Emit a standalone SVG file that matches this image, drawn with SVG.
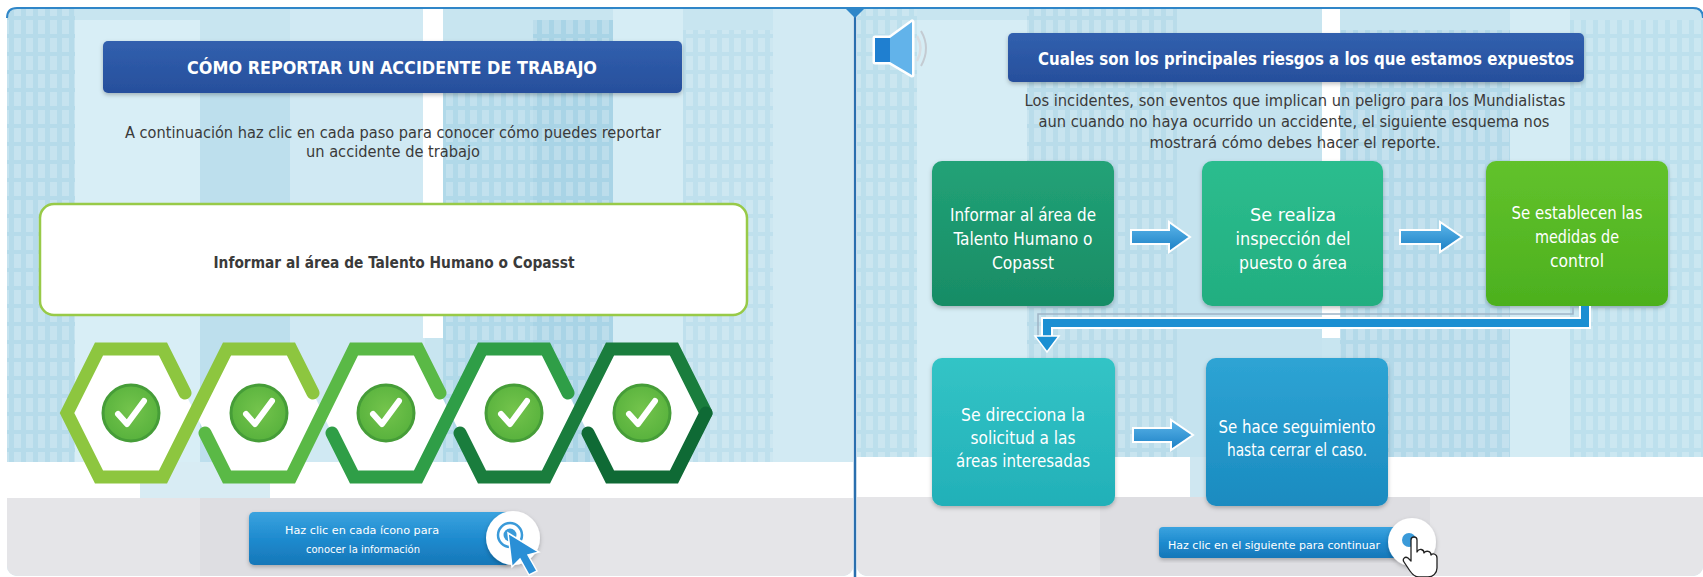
<svg xmlns="http://www.w3.org/2000/svg" width="1703" height="577" viewBox="0 0 1703 577">
  <style>
    .narrow { font-family: "Liberation Sans Narrow", "DejaVu Sans Condensed", "Liberation Sans", sans-serif; }
    .title { font-size: 18px; font-weight: bold; fill: #ffffff; text-anchor: middle; }
    .body { font-size: 15px; fill: #3a3a3a; text-anchor: middle; }
    .box-text { font-size: 18px; fill: #ffffff; text-anchor: middle; }
    .btn-text { font-size: 11px; fill: #ffffff; text-anchor: middle; }
    .hex { fill: none; stroke-width: 13; stroke-linecap: round; stroke-linejoin: miter; }
    .check { fill: none; stroke: #ffffff; stroke-width: 6; stroke-linecap: round; stroke-linejoin: round; }
    .flow-arrow { fill: url(#arrowGrad); stroke: #ffffff; stroke-width: 2; }
  </style>
  <defs>
    <pattern id="windows" width="12" height="18" patternUnits="userSpaceOnUse">
      <rect x="2" y="2" width="7" height="14" fill="#ffffff" opacity="0.22"/>
    </pattern>
    <linearGradient id="titleGrad" x1="0" y1="0" x2="0" y2="1">
      <stop offset="0" stop-color="#3160ae"/>
      <stop offset="1" stop-color="#274f9c"/>
    </linearGradient>
    <linearGradient id="btnGrad" x1="0" y1="0" x2="0" y2="1">
      <stop offset="0" stop-color="#3aa3df"/>
      <stop offset="0.5" stop-color="#1f8bcf"/>
      <stop offset="1" stop-color="#1677b8"/>
    </linearGradient>
    <linearGradient id="arrowGrad" x1="0" y1="0" x2="0" y2="1">
      <stop offset="0" stop-color="#5db6ea"/>
      <stop offset="1" stop-color="#1a7fc4"/>
    </linearGradient>
    <radialGradient id="checkGrad" cx="0.5" cy="0.45" r="0.55">
      <stop offset="0" stop-color="#74c44c"/>
      <stop offset="1" stop-color="#58b23d"/>
    </radialGradient>
    <linearGradient id="g1" x1="0" y1="0" x2="0" y2="1"><stop offset="0" stop-color="#22a277"/><stop offset="1" stop-color="#188c65"/></linearGradient>
    <linearGradient id="g2" x1="0" y1="0" x2="0" y2="1"><stop offset="0" stop-color="#2cbd8e"/><stop offset="1" stop-color="#22ae80"/></linearGradient>
    <linearGradient id="g3" x1="0" y1="0" x2="0" y2="1"><stop offset="0" stop-color="#62c22c"/><stop offset="1" stop-color="#4cb01e"/></linearGradient>
    <linearGradient id="g4" x1="0" y1="0" x2="0" y2="1"><stop offset="0" stop-color="#33c4c6"/><stop offset="1" stop-color="#22b0b8"/></linearGradient>
    <linearGradient id="g5" x1="0" y1="0" x2="0" y2="1"><stop offset="0" stop-color="#2ea4d4"/><stop offset="1" stop-color="#1a8bc0"/></linearGradient>
    <filter id="shadow" x="-10%" y="-10%" width="120%" height="125%">
      <feDropShadow dx="0" dy="2" stdDeviation="2" flood-color="#000000" flood-opacity="0.25"/>
    </filter>
    <clipPath id="leftClip"><rect x="7" y="8" width="846" height="568" rx="10"/></clipPath>
    <clipPath id="rightClip"><rect x="857" y="8" width="846" height="568" rx="10"/></clipPath>
  </defs>

  <rect width="1703" height="577" fill="#ffffff"/>

  <!-- left scene: city skyline backdrop -->
  <g id="left-scene" clip-path="url(#leftClip)">
    <rect x="7" y="8" width="846" height="568" fill="#c8e5f0"/>
    <rect x="7" y="8" width="68" height="455" fill="#b6dbea"/>
    <rect x="7" y="8" width="68" height="455" fill="url(#windows)"/>
    <rect x="75" y="20" width="125" height="443" fill="#d8eef6"/>
    <rect x="200" y="60" width="90" height="403" fill="#bddfed"/>
    <rect x="290" y="8" width="135" height="455" fill="#d0e9f3"/>
    <rect x="423" y="8" width="20" height="330" fill="#ffffff"/>
    <rect x="443" y="60" width="90" height="403" fill="#b1d9e9"/>
    <rect x="443" y="60" width="90" height="403" fill="url(#windows)"/>
    <rect x="533" y="20" width="80" height="443" fill="#a9d4e6"/>
    <rect x="533" y="20" width="80" height="443" fill="url(#windows)"/>
    <rect x="613" y="8" width="70" height="455" fill="#d6edf5"/>
    <rect x="683" y="30" width="90" height="433" fill="#bfe0ed"/>
    <rect x="683" y="30" width="90" height="433" fill="url(#windows)"/>
    <rect x="773" y="8" width="80" height="455" fill="#d2eaf3"/>
    <rect x="7" y="462" width="846" height="36" fill="#ffffff"/>
    <rect x="140" y="462" width="130" height="36" fill="#d8ecf4"/>
    <rect x="7" y="498" width="846" height="78" fill="#e5e5e8"/>
    <rect x="200" y="498" width="390" height="78" fill="#dedee2"/>
  </g>

  <!-- right scene: city skyline backdrop -->
  <g id="right-scene" clip-path="url(#rightClip)">
    <rect x="857" y="8" width="846" height="568" fill="#c8e5f0"/>
    <rect x="857" y="8" width="60" height="455" fill="#bcdfec"/>
    <rect x="857" y="8" width="60" height="455" fill="url(#windows)"/>
    <rect x="917" y="20" width="110" height="443" fill="#d6edf5"/>
    <rect x="1027" y="8" width="150" height="455" fill="#b9dcea"/>
    <rect x="1027" y="8" width="150" height="455" fill="url(#windows)"/>
    <rect x="1177" y="40" width="145" height="423" fill="#c5e3ef"/>
    <rect x="1322" y="8" width="18" height="330" fill="#ffffff"/>
    <rect x="1340" y="30" width="170" height="433" fill="#b3d9e9"/>
    <rect x="1340" y="30" width="170" height="433" fill="url(#windows)"/>
    <rect x="1510" y="8" width="60" height="455" fill="#d4ecf4"/>
    <rect x="1570" y="20" width="133" height="443" fill="#bde0ed"/>
    <rect x="1570" y="20" width="133" height="443" fill="url(#windows)"/>
    <rect x="857" y="457" width="846" height="41" fill="#ffffff"/>
    <rect x="1190" y="457" width="120" height="41" fill="#cfe7f1"/>
    <rect x="857" y="497" width="846" height="79" fill="#e5e5e8"/>
    <rect x="1100" y="497" width="330" height="79" fill="#dedee2"/>
  </g>

  <!-- frame: top rule and panel divider -->
  <g id="frame">
    <path d="M7,18 Q7,8 17,8 L1693,8 Q1703,8 1703,18" fill="none" stroke="#2f86c8" stroke-width="2"/>
    <line x1="855" y1="8" x2="855" y2="577" stroke="#2a6fae" stroke-width="2.5"/>
    <path d="M845,8 L865,8 L855,18 Z" fill="#2f86c8"/>
  </g>

  <!-- left panel -->
  <g id="left-title">
    <rect x="103" y="41" width="579" height="52" rx="5" fill="url(#titleGrad)" filter="url(#shadow)"/>
    <text class="narrow title" x="392" y="74" textLength="410" lengthAdjust="spacingAndGlyphs">CÓMO REPORTAR UN ACCIDENTE DE TRABAJO</text>
  </g>
  <g id="left-intro">
    <text class="narrow body" x="393" y="138" textLength="536" lengthAdjust="spacingAndGlyphs">A continuación haz clic en cada paso para conocer cómo puedes reportar</text>
    <text class="narrow body" x="393" y="157" textLength="174" lengthAdjust="spacingAndGlyphs">un accidente de trabajo</text>
  </g>
  <g id="step-detail">
    <rect x="40" y="204" width="707" height="111" rx="14" fill="#ffffff" stroke="#98ca48" stroke-width="2.5"/>
    <text class="narrow" x="394" y="268" font-size="16" font-weight="bold" fill="#3a3a3a" text-anchor="middle" textLength="361" lengthAdjust="spacingAndGlyphs">Informar al área de Talento Humano o Copasst</text>
  </g>

  <!-- chain of five step icons -->
  <g id="step-icons">
    <g fill="#ffffff">
      <polygon points="67,413 99,349 163,349 195,413 163,477 99,477"/>
      <polygon points="195,413 227,349 291,349 323,413 291,477 227,477"/>
      <polygon points="322,413 354,349 418,349 450,413 418,477 354,477"/>
      <polygon points="450,413 482,349 546,349 578,413 546,477 482,477"/>
      <polygon points="578,413 610,349 674,349 706,413 674,477 610,477"/>
    </g>
    <path class="hex" stroke="#8dc63f" d="M185,393 L163,349 L99,349 L67,413 L99,477 L163,477 L227,349 L291,349 L313,393"/>
    <path class="hex" stroke="#5ab946" d="M205,433 L227,477 L291,477 L354,349 L418,349 L440,393"/>
    <path class="hex" stroke="#2f9e47" d="M332,433 L354,477 L418,477 L482,349 L546,349 L568,393"/>
    <path class="hex" stroke="#1a7d3d" d="M460,433 L482,477 L546,477 L610,349 L674,349 L706,413"/>
    <path class="hex" stroke="#0f6a35" d="M588,433 L610,477 L674,477 L706,413"/>
    <g fill="url(#checkGrad)" stroke="#469d38" stroke-width="3">
      <circle cx="131" cy="413" r="28"/>
      <circle cx="259" cy="413" r="28"/>
      <circle cx="386" cy="413" r="28"/>
      <circle cx="514" cy="413" r="28"/>
      <circle cx="642" cy="413" r="28"/>
    </g>
    <path class="check" d="M118,414 L127,424 L144,401"/>
    <path class="check" d="M246,414 L255,424 L272,401"/>
    <path class="check" d="M373,414 L382,424 L399,401"/>
    <path class="check" d="M501,414 L510,424 L527,401"/>
    <path class="check" d="M629,414 L638,424 L655,401"/>
  </g>

  <!-- left hint button -->
  <g id="left-hint">
    <rect x="249" y="512" width="262" height="53" rx="5" fill="url(#btnGrad)" filter="url(#shadow)"/>
    <text class="narrow btn-text" x="362" y="534" textLength="154" lengthAdjust="spacingAndGlyphs">Haz clic en cada ícono para</text>
    <text class="narrow btn-text" x="363" y="553" textLength="114" lengthAdjust="spacingAndGlyphs">conocer la información</text>
    <circle cx="513" cy="538" r="27" fill="#ffffff" filter="url(#shadow)"/>
    <circle cx="510" cy="535" r="12" fill="none" stroke="#3a9ad9" stroke-width="2.5"/>
    <circle cx="510" cy="535" r="6.5" fill="#3a9ad9"/>
    <path d="M508,533 L512,567 L520,559 L529,575 L537,571 L528,555 L539,552 Z" fill="#2a8fd6" stroke="#ffffff" stroke-width="1.5"/>
  </g>

  <!-- right panel -->
  <g id="speaker">
    <path d="M875,38 L890,38 L912,22 L912,75 L890,62 L875,62 Z" fill="none" stroke="#ffffff" stroke-width="5" stroke-linejoin="round"/>
    <rect x="875" y="38" width="15" height="24" fill="#1f7fd0"/>
    <path d="M890,38 L912,22 L912,75 L890,62 Z" fill="#62b3ea"/>
    <path d="M917,36 Q924,48 917,61" fill="none" stroke="#d8dde2" stroke-width="2.5"/>
    <path d="M921,31 Q931,48 921,66" fill="none" stroke="#c4cbd2" stroke-width="2"/>
  </g>
  <g id="right-title">
    <rect x="1008" y="33" width="576" height="49" rx="5" fill="url(#titleGrad)" filter="url(#shadow)"/>
    <text class="narrow title" x="1306" y="65" textLength="536" lengthAdjust="spacingAndGlyphs">Cuales son los principales riesgos  a los que estamos expuestos</text>
  </g>
  <g id="right-intro">
    <text class="narrow body" x="1295" y="106" font-size="16" textLength="541" lengthAdjust="spacingAndGlyphs">Los incidentes, son eventos que implican un peligro para los Mundialistas</text>
    <text class="narrow body" x="1294" y="127" font-size="16" textLength="511" lengthAdjust="spacingAndGlyphs">aun cuando no haya ocurrido un accidente, el siguiente esquema  nos</text>
    <text class="narrow body" x="1295" y="148" font-size="16" textLength="291" lengthAdjust="spacingAndGlyphs">mostrará cómo debes hacer el reporte.</text>
  </g>

  <g id="box-informar">
    <rect x="932" y="161" width="182" height="145" rx="10" fill="url(#g1)" filter="url(#shadow)"/>
    <text class="narrow box-text" x="1023" y="221" textLength="146" lengthAdjust="spacingAndGlyphs">Informar al área de</text>
    <text class="narrow box-text" x="1023" y="245" textLength="139" lengthAdjust="spacingAndGlyphs">Talento Humano o</text>
    <text class="narrow box-text" x="1023" y="269" textLength="62" lengthAdjust="spacingAndGlyphs">Copasst</text>
  </g>
  <g id="box-inspeccion">
    <rect x="1202" y="161" width="181" height="145" rx="10" fill="url(#g2)" filter="url(#shadow)"/>
    <text class="narrow box-text" x="1293" y="221" textLength="86" lengthAdjust="spacingAndGlyphs">Se realiza</text>
    <text class="narrow box-text" x="1293" y="245" textLength="115" lengthAdjust="spacingAndGlyphs">inspección del</text>
    <text class="narrow box-text" x="1293" y="269" textLength="108" lengthAdjust="spacingAndGlyphs">puesto o área</text>
  </g>
  <g id="box-medidas">
    <rect x="1486" y="161" width="182" height="145" rx="10" fill="url(#g3)" filter="url(#shadow)"/>
    <text class="narrow box-text" x="1577" y="219" textLength="131" lengthAdjust="spacingAndGlyphs">Se establecen las</text>
    <text class="narrow box-text" x="1577" y="243" textLength="84" lengthAdjust="spacingAndGlyphs">medidas de</text>
    <text class="narrow box-text" x="1577" y="267" textLength="54" lengthAdjust="spacingAndGlyphs">control</text>
  </g>
  <g id="box-direcciona">
    <rect x="932" y="358" width="183" height="148" rx="10" fill="url(#g4)" filter="url(#shadow)"/>
    <text class="narrow box-text" x="1023" y="421" textLength="124" lengthAdjust="spacingAndGlyphs">Se direcciona la</text>
    <text class="narrow box-text" x="1023" y="444" textLength="105" lengthAdjust="spacingAndGlyphs">solicitud a las</text>
    <text class="narrow box-text" x="1023" y="467" textLength="134" lengthAdjust="spacingAndGlyphs">áreas interesadas</text>
  </g>
  <g id="box-seguimiento">
    <rect x="1206" y="358" width="182" height="148" rx="10" fill="url(#g5)" filter="url(#shadow)"/>
    <text class="narrow box-text" x="1297" y="433" textLength="157" lengthAdjust="spacingAndGlyphs">Se hace seguimiento</text>
    <text class="narrow box-text" x="1297" y="456" textLength="140" lengthAdjust="spacingAndGlyphs">hasta cerrar el caso.</text>
  </g>

  <!-- connectors between the steps -->
  <g id="connectors">
    <path class="flow-arrow" d="M1131,230 L1169,230 L1169,222 L1190,237 L1169,252 L1169,244 L1131,244 Z"/>
    <path class="flow-arrow" d="M1400,230 L1440,230 L1440,222 L1462,237 L1440,252 L1440,244 L1400,244 Z"/>
    <path class="flow-arrow" d="M1133,428 L1171,428 L1171,420 L1193,435 L1171,450 L1171,442 L1133,442 Z"/>
    <path d="M1573,306 L1573,314 L1038,314 L1038,340" fill="none" stroke="#9fb4c6" stroke-width="1.5"/>
    <path d="M1585,306 L1585,323 L1047,323 L1047,338" fill="none" stroke="#ffffff" stroke-width="12"/>
    <path d="M1585,306 L1585,323 L1047,323 L1047,338" fill="none" stroke="#1b8fd2" stroke-width="8"/>
    <path d="M1035,336 L1059,336 L1047,352 Z" fill="#1b8fd2" stroke="#ffffff" stroke-width="1.5"/>
  </g>

  <!-- right hint button -->
  <g id="right-hint">
    <rect x="1159" y="527" width="240" height="31" rx="4" fill="url(#btnGrad)" filter="url(#shadow)"/>
    <text class="narrow btn-text" x="1274" y="549" textLength="212" lengthAdjust="spacingAndGlyphs">Haz clic en el siguiente para continuar</text>
    <circle cx="1412" cy="542" r="24" fill="#ffffff" filter="url(#shadow)"/>
    <circle cx="1409" cy="540" r="7" fill="#3a9ad9"/>
    <path d="M1411,540 C1411,536 1417,536 1417,540 L1417,552 C1419,548 1424,549 1424,553 C1426,550 1431,551 1431,555 C1433,553 1437,554 1437,558 L1437,568 C1437,573 1433,577 1428,577 L1419,577 C1415,577 1412,574 1410,571 L1404,562 C1402,559 1405,556 1408,558 L1411,561 Z" fill="#ffffff" stroke="#222222" stroke-width="1.3" stroke-linejoin="round"/>
  </g>
</svg>
